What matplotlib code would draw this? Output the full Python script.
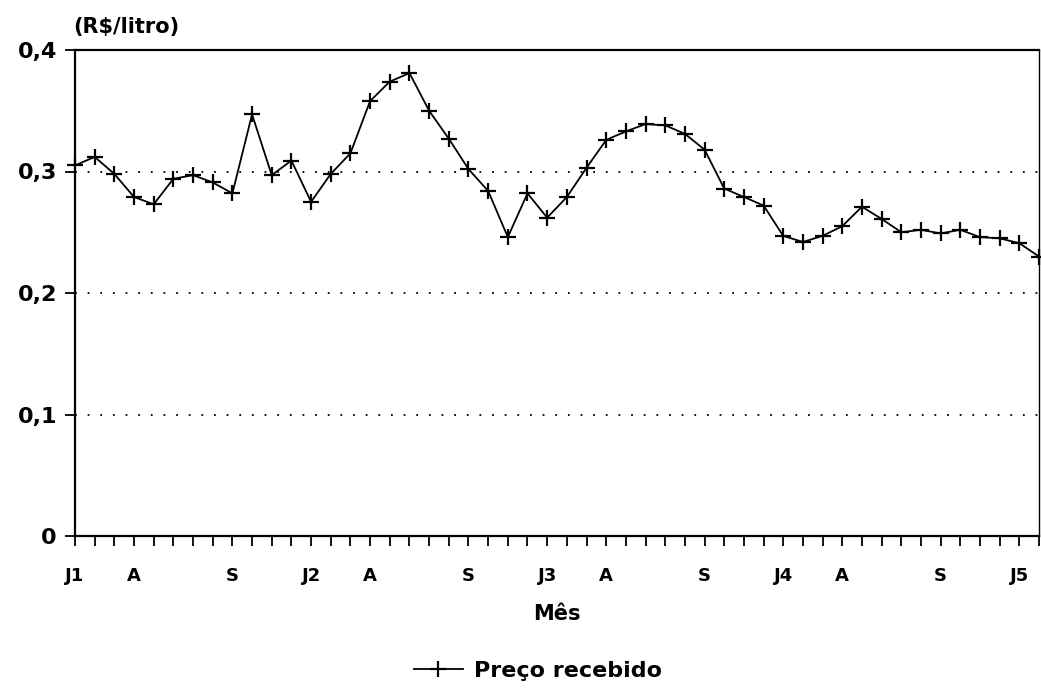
import matplotlib
matplotlib.use("Agg")
import matplotlib.pyplot as plt

plt.rcParams['font.family'] = ['DejaVu Sans']
plt.rcParams['font.weight'] = 'bold'

# Monthly index (J1 = 0 ... J5 = 48, one extra month at 49)
months = list(range(50))
preco = [0.305, 0.312, 0.298, 0.279, 0.273, 0.294, 0.297, 0.291, 0.282, 0.347,
         0.297, 0.309, 0.275, 0.298, 0.315, 0.358, 0.374, 0.381, 0.350, 0.327,
         0.302, 0.284, 0.246, 0.282, 0.262, 0.279, 0.303, 0.326, 0.333, 0.339,
         0.338, 0.331, 0.318, 0.286, 0.279, 0.272, 0.247, 0.242, 0.247, 0.255,
         0.271, 0.261, 0.250, 0.252, 0.249, 0.252, 0.246, 0.245, 0.241, 0.230]

tick_labels = {0: 'J1', 3: 'A', 8: 'S', 12: 'J2', 15: 'A', 20: 'S',
               24: 'J3', 27: 'A', 32: 'S', 36: 'J4', 39: 'A', 44: 'S', 48: 'J5'}
y_ticks = [0, 0.1, 0.2, 0.3, 0.4]
y_labels = ['0', '0,1', '0,2', '0,3', '0,4']

fig = plt.figure(figsize=(10.41, 6.98), dpi=100)
ax = fig.add_axes([75/1041, 1 - 536/698, (1039 - 75)/1041, (536 - 50)/698])

ax.plot(months, preco, color='black', lw=1.3, marker='+', ms=12, mew=1.6,
        label='Preço recebido', clip_on=False)

ax.set_xlim(0, 49)
ax.set_ylim(0, 0.4)

ax.set_xticks(months)
ax.set_xticklabels([tick_labels.get(m, '') for m in months])
ax.set_yticks(y_ticks)
ax.set_yticklabels(y_labels)

for yv in [0.1, 0.2, 0.3]:
    ax.axhline(yv, color='black', lw=1.3, ls=(0, (1, 6)), zorder=0)

for s in ax.spines.values():
    s.set_linewidth(1.6)
ax.spines['right'].set_linewidth(1.0)

ax.tick_params(axis='x', direction='out', length=7, width=1.3, pad=15,
               labelsize=13)
ax.tick_params(axis='y', direction='out', length=7, width=1.3, pad=6,
               labelsize=16)
for lab in ax.get_xticklabels() + ax.get_yticklabels():
    lab.set_fontweight('bold')

fig.text(73/1041, 1 - 27/698, '(R$/litro)', fontsize=15, fontweight='bold',
         ha='left', va='center')
ax.set_xlabel('Mês', fontsize=15, fontweight='bold', labelpad=14)

fig.legend(loc='center', bbox_to_anchor=(538/1041, 1 - 671/698), frameon=False,
           prop={'size': 16, 'weight': 'bold'}, handlelength=2.2,
           handletextpad=0.5)

fig.savefig('out.png', dpi=100, facecolor='white')
